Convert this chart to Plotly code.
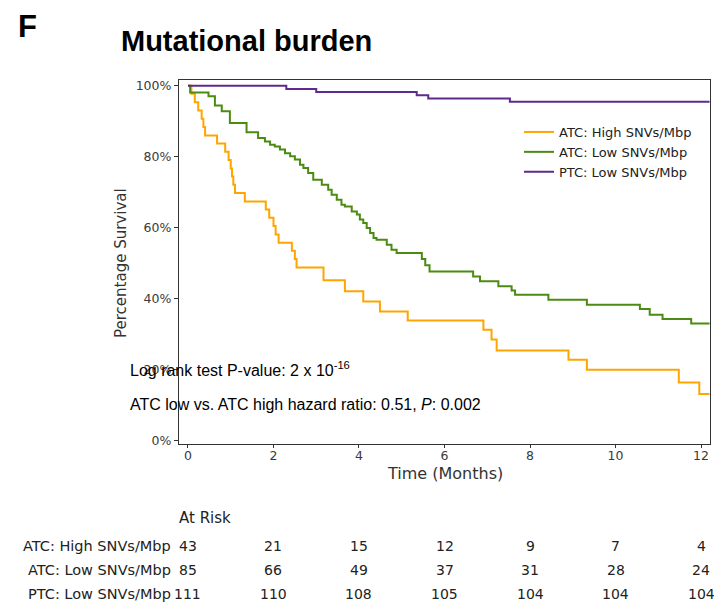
import plotly.graph_objects as go

# ---------------- data ----------------
group_names = ["ATC: High SNVs/Mbp", "ATC: Low SNVs/Mbp", "PTC: Low SNVs/Mbp"]

high_atc_t = [0, 0.08, 0.16, 0.24, 0.32, 0.36, 0.40, 0.68, 0.87, 0.95, 1.00, 1.03, 1.06, 1.10,
              1.33, 1.82, 1.90, 2.00, 2.05, 2.12, 2.43, 2.50, 2.54, 3.17, 3.67, 4.10, 4.49, 5.14,
              6.91, 7.10, 7.22, 8.90, 9.33, 11.48, 11.96, 12.2]
high_atc_s = [100, 97.7, 95.3, 93.0, 90.7, 88.4, 86.0, 83.7, 81.4, 79.1, 76.7, 74.4, 72.1, 69.8,
              67.4, 65.1, 62.8, 60.5, 58.1, 55.8, 53.5, 51.2, 48.8, 45.2, 42.1, 39.2, 36.4, 33.9,
              31.3, 28.5, 25.4, 22.8, 20.0, 16.4, 13.2, 13.2]

low_atc_t = [0, 0.05, 0.48, 0.63, 0.79, 0.98, 1.37, 1.64, 1.80, 1.92, 2.03, 2.15, 2.27, 2.39,
             2.50, 2.62, 2.70, 2.81, 2.93, 3.13, 3.28, 3.36, 3.48, 3.59, 3.67, 3.83, 3.95, 4.02,
             4.10, 4.18, 4.26, 4.34, 4.41, 4.65, 4.76, 4.88, 5.47, 5.55, 5.65, 6.67, 6.83, 7.26,
             7.57, 7.65, 8.43, 9.33, 10.57, 10.80, 11.10, 11.77, 12.2]
low_atc_s = [100, 98.1, 97.0, 94.4, 92.8, 89.5, 86.9, 85.3, 84.3, 83.4, 82.9, 82.0, 81.0, 80.1,
             79.2, 77.7, 76.8, 75.4, 73.5, 72.1, 70.7, 69.3, 67.9, 66.5, 66.0, 64.6, 63.7, 62.3,
             61.3, 59.9, 58.5, 57.1, 56.6, 55.2, 53.8, 52.9, 51.2, 49.4, 47.7, 46.3, 44.9, 43.5,
             42.3, 41.1, 39.7, 38.3, 37.1, 35.5, 34.3, 33.0, 33.0]

low_ptc_t = [0, 2.3, 3.0, 5.35, 5.62, 7.53, 12.2]
low_ptc_s = [100, 99.1, 98.2, 97.3, 96.4, 95.5, 95.5]

risk_times = [0, 2, 4, 6, 8, 10, 12]
risk_high_atc = [43, 21, 15, 12, 9, 7, 4]
risk_low_atc = [85, 66, 49, 37, 31, 28, 24]
risk_low_ptc = [111, 110, 108, 105, 104, 104, 104]

y_ticks = [0, 20, 40, 60, 80, 100]
y_tick_labels = ["0%", "20%", "40%", "60%", "80%", "100%"]
x_ticks = [0, 2, 4, 6, 8, 10, 12]

colors = ["#FFA500", "#4B8B12", "#5E2A8E"]

# ---------------- figure ----------------
fig = go.Figure()
series = [(high_atc_t, high_atc_s), (low_atc_t, low_atc_s), (low_ptc_t, low_ptc_s)]
for (t, s), name, c in zip(series, group_names, colors):
    fig.add_trace(go.Scatter(x=t, y=s, mode="lines", line=dict(color=c, width=2, shape="hv"),
                             name=name))

W, H = 726, 613
L, R, T, B = 179, 16, 80, 169
pw, ph = W - L - R, H - T - B


def px(xp):
    return (xp - L) / pw


def py(yp):
    return (H - B - yp) / ph


tick_font = dict(family="DejaVu Sans", size=12.5, color="#3a3a3a")
fig.update_layout(
    width=W, height=H,
    margin=dict(l=L, r=R, t=T, b=B),
    plot_bgcolor="white", paper_bgcolor="white",
    showlegend=True,
    legend=dict(x=px(519), y=py(117), xanchor="left", yanchor="top",
                bgcolor="rgba(0,0,0,0)", font=dict(family="DejaVu Sans", size=13, color="#222"),
                itemwidth=30, tracegroupgap=0),
    xaxis=dict(range=[-0.21, 12.21], tickvals=x_ticks, ticks="outside", ticklen=3,
               ticklabelstandoff=-3,
               showgrid=False, zeroline=False, showline=True, linecolor="#333", linewidth=1.2,
               mirror=True, tickfont=tick_font, tickcolor="#333"),
    yaxis=dict(range=[-0.9, 101.6], tickvals=y_ticks, ticktext=y_tick_labels, ticks="outside",
               ticklen=4, showgrid=False, zeroline=False, showline=True, linecolor="#333",
               linewidth=1.2, mirror=True, tickfont=tick_font, tickcolor="#333"),
)

ann = []
ann.append(dict(text="<b>F</b>", x=px(16), y=py(26), xref="paper", yref="paper",
                xanchor="left", yanchor="middle", showarrow=False,
                font=dict(family="Liberation Sans", size=31, color="black")))
ann.append(dict(text="<b>Mutational burden</b>", x=px(119), y=py(41), xref="paper", yref="paper",
                xanchor="left", yanchor="middle", showarrow=False,
                font=dict(family="Liberation Sans", size=29, color="black")))
ann.append(dict(text="Percentage Survival", x=px(121), y=py(263), xref="paper", yref="paper",
                xanchor="center", yanchor="middle", textangle=-90, showarrow=False,
                font=dict(family="DejaVu Sans", size=15, color="#333")))
ann.append(dict(text="Time (Months)", x=px(445), y=py(473), xref="paper", yref="paper",
                xanchor="center", yanchor="middle", showarrow=False,
                font=dict(family="DejaVu Sans", size=16, color="#333")))
ann.append(dict(text="Log rank test P-value: 2 x 10<sup>-16</sup>", x=px(128), y=py(369),
                xref="paper", yref="paper", xanchor="left", yanchor="middle", showarrow=False,
                font=dict(family="Liberation Sans", size=16, color="black")))
ann.append(dict(text="ATC low vs. ATC high hazard ratio: 0.51, <i>P</i>: 0.002", x=px(128),
                y=py(404), xref="paper", yref="paper", xanchor="left", yanchor="middle",
                showarrow=False, font=dict(family="Liberation Sans", size=16, color="black")))
ann.append(dict(text="At Risk", x=px(177), y=py(518), xref="paper", yref="paper",
                xanchor="left", yanchor="middle", showarrow=False,
                font=dict(family="DejaVu Sans", size=15, color="#222")))

label_font = dict(family="DejaVu Sans", size=14.5, color="#222")
num_font = dict(family="DejaVu Sans", size=14, color="#222")
row_y = [546, 570, 594]
for name, counts, yy in zip(group_names, [risk_high_atc, risk_low_atc, risk_low_ptc], row_y):
    ann.append(dict(text=name, x=px(173), y=py(yy), xref="paper", yref="paper",
                    xanchor="right", yanchor="middle", showarrow=False, font=label_font))
    for t, c in zip(risk_times, counts):
        ann.append(dict(text=str(c), x=t, y=py(yy), xref="x", yref="paper",
                        xanchor="center", yanchor="middle", showarrow=False, font=num_font))

fig.update_layout(annotations=ann)
fig.write_html("out.html")
